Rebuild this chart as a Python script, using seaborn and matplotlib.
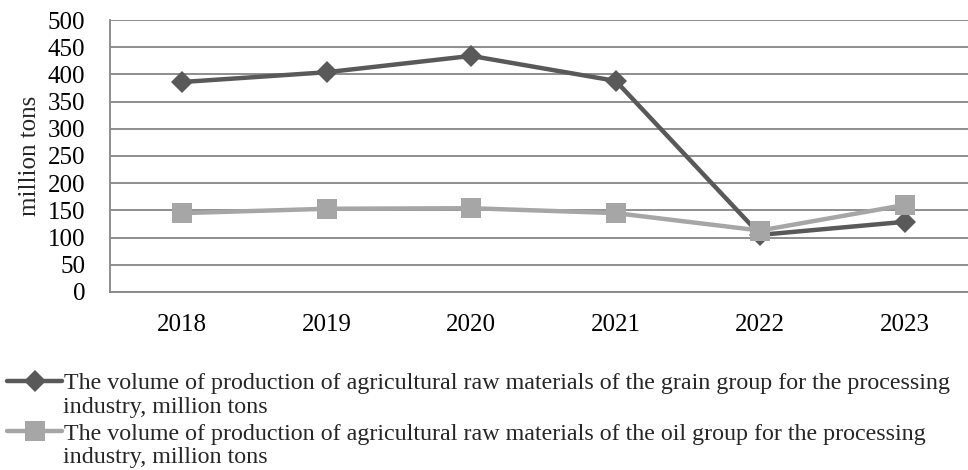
import numpy as np
import pandas as pd
import matplotlib
matplotlib.use("Agg")
import matplotlib.pyplot as plt
import seaborn as sns

years = ["2018", "2019", "2020", "2021", "2022", "2023"]
grain = [386, 404, 434, 388, 105, 129]
oil = [145, 153, 154, 145, 113, 160]
grain_label = "The volume of production of agricultural raw materials of the grain group for the processing"
oil_label = "The volume of production of agricultural raw materials of the oil group for the processing"
label_tail = "industry, million tons"

sns.set_style("white")
plt.rcParams['font.family'] = ['Liberation Serif', 'DejaVu Serif']

fig = plt.figure(figsize=(9.68, 4.70), dpi=100)
ax = fig.add_axes([110 / 968, 1 - 292 / 470, 867 / 968, 272 / 470])

df = pd.DataFrame({"year": years, "grain": grain, "oil": oil})
sns.lineplot(data=df, x="year", y="grain", ax=ax, color="#595959", lw=3.2,
             marker="D", markersize=11, markeredgewidth=0, sort=False, label=grain_label)
sns.lineplot(data=df, x="year", y="oil", ax=ax, color="#a6a6a6", lw=3.2,
             marker="s", markersize=14, markeredgewidth=0, sort=False, label=oil_label)

ax.set_ylim(0, 500)
ax.set_yticks(range(0, 501, 50))
ax.set_xlim(-0.5, 5.5)
ax.yaxis.grid(True, color="#868686", lw=1.3)
ax.set_axisbelow(True)
for s in ["top", "right"]:
    ax.spines[s].set_visible(False)
for s in ["left", "bottom"]:
    ax.spines[s].set_color("#868686")
    ax.spines[s].set_linewidth(1.3)
ax.tick_params(axis="both", labelsize=18, length=0, colors="black")
ax.tick_params(axis="x", pad=16)
ax.tick_params(axis="y", pad=18)
ax.set_xlabel("")
ax.set_ylabel("million tons", fontsize=18, labelpad=5)

# legend: first line of each label next to the handle, second line as text
handles, labels = ax.get_legend_handles_labels()
ax.get_legend().remove()
fig.legend(handles, labels, loc="upper left", bbox_to_anchor=(0.0, 1 - 365 / 470),
           frameon=False, fontsize=17.3, handlelength=2.3, handletextpad=0.05,
           labelspacing=1.2, borderaxespad=0, borderpad=0.3)
for y in [408, 458]:
    fig.text(63 / 968, 1 - y / 470, label_tail, fontsize=17.3, va="center", ha="left")

fig.savefig("out.png", dpi=100)
